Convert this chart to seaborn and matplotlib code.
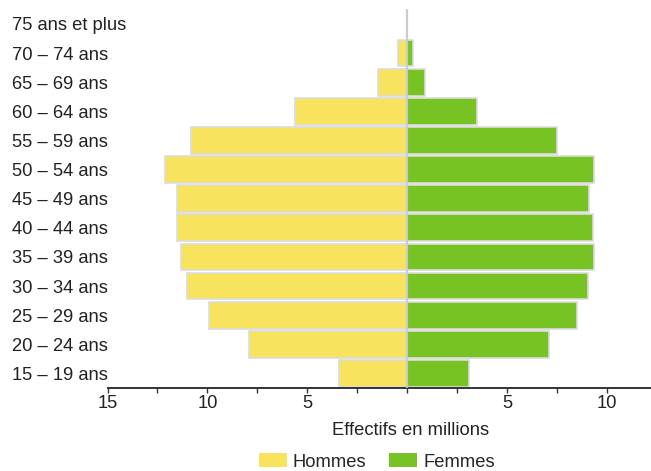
import pandas as pd
import seaborn as sns
import matplotlib.pyplot as plt
from matplotlib.ticker import MultipleLocator

# age groups, oldest at the top
ages = ['75 ans et plus', '70 – 74 ans', '65 – 69 ans', '60 – 64 ans', '55 – 59 ans',
        '50 – 54 ans', '45 – 49 ans', '40 – 44 ans', '35 – 39 ans', '30 – 34 ans',
        '25 – 29 ans', '20 – 24 ans', '15 – 19 ans']
# population in millions
hommes = [0.0, 0.45, 1.45, 5.6, 10.8, 12.1, 11.5, 11.5, 11.3, 11.0, 9.9, 7.9, 3.4]
femmes = [0.0, 0.3, 0.9, 3.5, 7.5, 9.35, 9.1, 9.3, 9.35, 9.05, 8.5, 7.1, 3.1]

df = pd.concat([
    pd.DataFrame({'age': ages, 'effectif': [-v for v in hommes], 'sexe': 'Hommes'}),
    pd.DataFrame({'age': ages, 'effectif': femmes, 'sexe': 'Femmes'}),
])

sns.set_style('white')
plt.rcParams['font.family'] = ['Liberation Sans', 'DejaVu Sans']
fs = 13.2

fig = plt.figure(figsize=(6.51, 4.71), dpi=100)
ax = fig.add_axes([107.5 / 651, 83 / 471, 543.5 / 651, 378.6 / 471])

sns.barplot(data=df, x='effectif', y='age', hue='sexe', order=ages, dodge=False,
            palette={'Hommes': '#f8e35e', 'Femmes': '#77c324'}, saturation=1, width=0.92,
            edgecolor='#dcdcdc', linewidth=1.2, ax=ax, orient='h')
ax.axvline(0, color='#c8c8c8', lw=1.6, alpha=0.85, zorder=5)

ax.set_xlim(-15, 12.2)
ax.set_ylim(12.5, -0.5)
for s in ['top', 'right', 'left']:
    ax.spines[s].set_visible(False)
ax.spines['bottom'].set_color('#333333')
ax.spines['bottom'].set_linewidth(1.4)

ax.xaxis.set_minor_locator(MultipleLocator(2.5))
ax.set_xticks([-15, -10, -5, 0, 5, 10])
ax.set_xticklabels(['15', '10', '5', '', '5', '10'])
ax.tick_params(axis='x', which='both', direction='out', length=3.5, width=1,
               color='#333333', labelsize=fs, labelcolor='#222222', pad=1.5, bottom=True)
ax.tick_params(axis='y', length=0, pad=68.8, labelsize=fs, labelcolor='#222222')
for lab in ax.get_yticklabels():
    lab.set_horizontalalignment('left')

ax.set_ylabel('')
ax.set_xlabel('Effectifs en millions', fontsize=fs, color='#222222')
ax.xaxis.set_label_coords((411 - 107.5) / 543.5, -0.09)

handles, labels = ax.get_legend_handles_labels()
ax.get_legend().remove()
fig.legend(handles, labels, loc='center', bbox_to_anchor=(377 / 651, 1 - 462 / 471),
           ncol=2, frameon=False, fontsize=fs, handlelength=1.5, handleheight=0.8,
           columnspacing=1.25, handletextpad=0.35, borderpad=0.2)
for h in fig.legends[0].legend_handles:
    h.set_edgecolor('none')

fig.savefig('out.png', dpi=100)
